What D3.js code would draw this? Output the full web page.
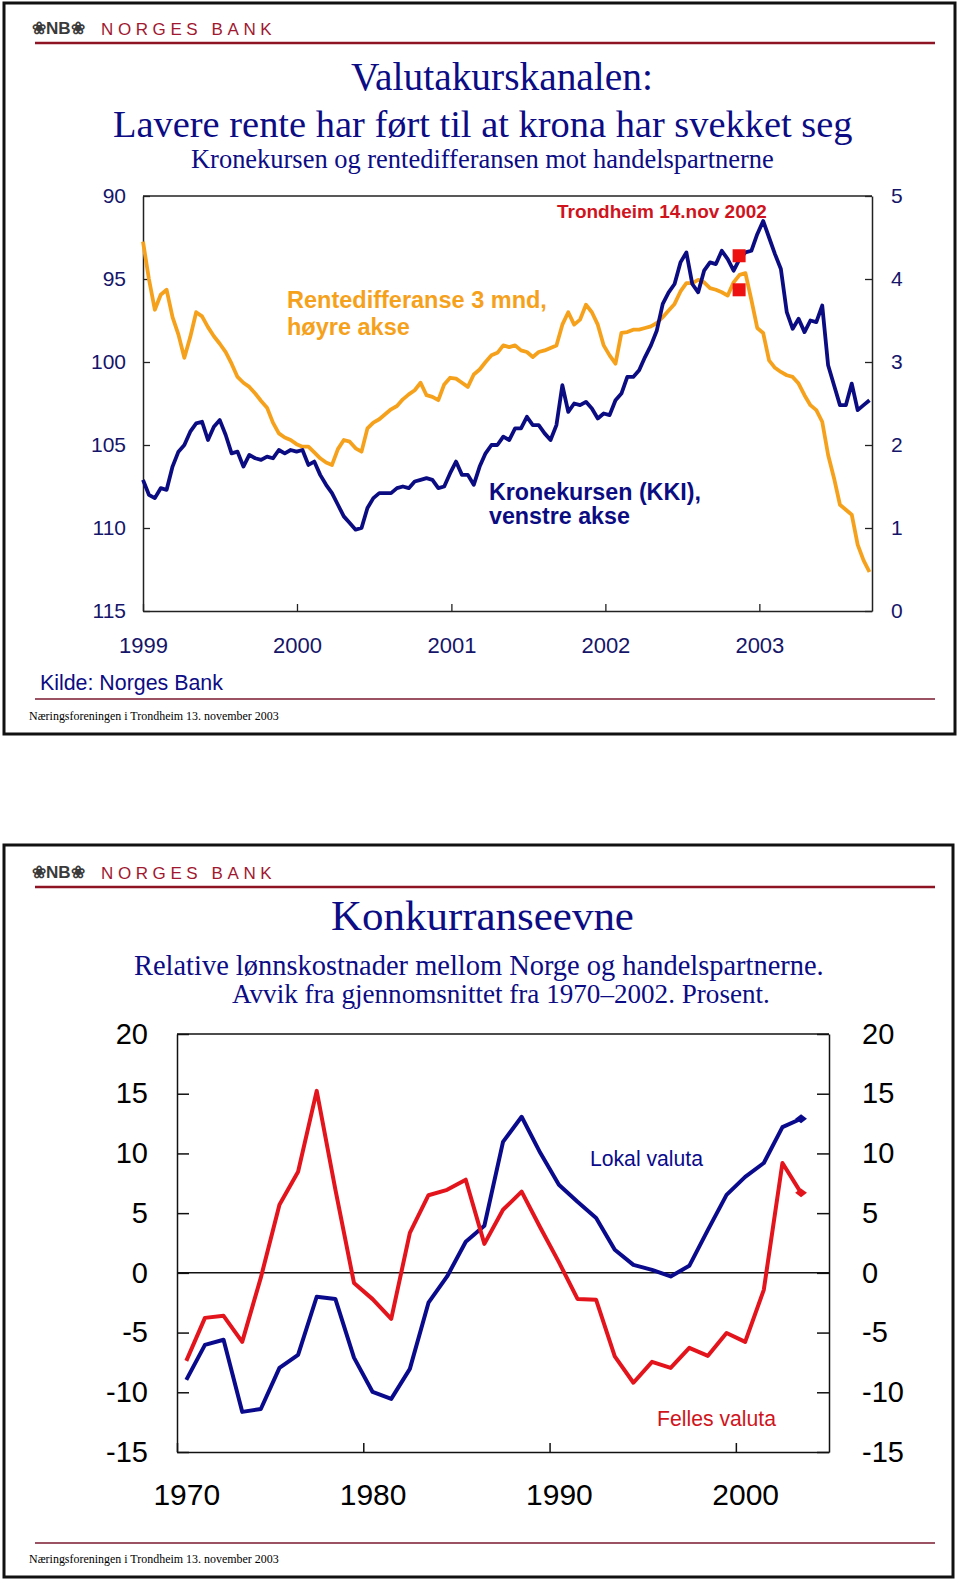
<!DOCTYPE html>
<html><head><meta charset="utf-8">
<script src="https://cdn.jsdelivr.net/npm/d3@7"></script>
<style>body{margin:0;background:#fff} svg{display:block}</style>
</head><body>
<svg id="c" width="960" height="1583"></svg>
<script>
// ---------- Chart 1 data ----------
const kkiStart = "1999-01-01";
const stepDays = 14;
const kkiValues = [107.1,108.0,108.2,107.6,107.7,106.3,105.4,105.0,104.2,103.7,
103.6,104.7,103.9,103.5,104.4,105.5,105.4,106.3,105.6,105.8,
105.9,105.7,105.8,105.3,105.5,105.3,105.4,105.3,106.2,106.0,
106.8,107.4,107.9,108.6,109.3,109.7,110.1,110.0,108.8,108.2,
107.9,107.9,107.9,107.6,107.5,107.6,107.2,107.1,107.0,107.1,
107.6,107.5,106.7,106.0,106.8,106.8,107.4,106.3,105.5,105.0,
105.0,104.5,104.7,104.0,104.0,103.3,103.8,103.8,104.3,104.7,
103.8,101.4,103.0,102.5,102.6,102.4,102.8,103.4,103.1,103.2,
102.3,101.9,100.9,100.9,100.5,99.7,99.0,98.1,96.5,95.8,
95.3,94.0,93.4,95.3,95.8,94.5,94.0,94.1,93.3,93.8,
94.5,93.8,93.4,93.3,92.3,91.5,92.5,93.5,94.4,97.0,
98.0,97.4,98.2,97.5,97.6,96.6,100.2,101.4,102.6,102.6,
101.3,102.9,102.6,102.3];
const diffValues = [4.45,4.0,3.63,3.81,3.87,3.54,3.33,3.05,3.30,3.60,
3.55,3.42,3.31,3.22,3.12,2.98,2.82,2.75,2.70,2.62,
2.53,2.45,2.27,2.14,2.09,2.06,2.01,1.98,1.98,1.91,
1.84,1.79,1.76,1.95,2.06,2.04,1.96,1.92,2.20,2.27,
2.31,2.37,2.43,2.47,2.55,2.61,2.66,2.75,2.60,2.58,
2.54,2.73,2.81,2.80,2.75,2.70,2.85,2.91,3.00,3.08,
3.11,3.20,3.18,3.20,3.14,3.12,3.06,3.12,3.14,3.17,
3.20,3.45,3.60,3.45,3.51,3.69,3.60,3.45,3.20,3.08,
2.98,3.35,3.36,3.39,3.39,3.41,3.43,3.47,3.54,3.62,
3.70,3.85,3.95,3.95,3.99,3.96,3.89,3.87,3.84,3.80,
3.96,4.05,4.07,3.75,3.41,3.35,3.02,2.93,2.88,2.84,
2.82,2.74,2.60,2.48,2.42,2.28,1.88,1.60,1.28,1.22,
1.16,0.80,0.61,0.47];
const markerDate = "2002-11-14";
const markerKKI = 93.6;
const markerDiff = 3.87;
const topXTicks = [1999,2000,2001,2002,2003];
const topLeftTicks = [90,95,100,105,110,115];
const topRightTicks = [0,1,2,3,4,5];

// ---------- Chart 2 data ----------
const years = d3.range(1970, 2004);
const fellesValues = [-7.37,-3.77,-3.6,-5.78,-0.4,5.7,8.46,15.24,7.0,-0.84,
-2.2,-3.85,3.35,6.5,6.95,7.8,2.43,5.28,6.8,3.8,
0.9,-2.18,-2.26,-7.0,-9.2,-7.45,-7.96,-6.28,-6.95,-5.03,
-5.78,-1.42,9.2,6.7];
const lokalValues = [-8.96,-6.03,-5.6,-11.64,-11.4,-7.96,-6.87,-2.0,-2.18,-7.1,
-9.97,-10.55,-8.04,-2.5,-0.3,2.6,3.94,10.97,13.07,10.05,
7.37,5.95,4.6,1.93,0.67,0.25,-0.3,0.59,3.6,6.53,
8.04,9.2,12.2,12.9];
const botXTicks = [1970,1980,1990,2000];
const botYTicks = [-15,-10,-5,0,5,10,15,20];

// ---------- helpers ----------
const svg = d3.select("#c");
const SERIF = "'Liberation Serif','Times New Roman',serif";
const SANS = "'Liberation Sans',Arial,sans-serif";
const NAVY = "#0c0c84";
const plain = d => String(d);
function txt(g, s, x, y, size, opts = {}) {
  const t = g.append("text").attr("x", x).attr("y", y).text(s)
    .attr("font-family", opts.family || SANS).attr("font-size", size)
    .attr("fill", opts.fill || "#000")
    .attr("font-weight", opts.weight || "normal");
  if (opts.spacing) t.attr("letter-spacing", opts.spacing);
  if (opts.width) {
    const w = t.node().getComputedTextLength();
    t.attr("font-size", size * opts.width / w);
  }
  return t;
}
function slide(g, y0, y1, x1, lineY, footY, footLineY) {
  g.append("rect").attr("x", 4).attr("y", y0).attr("width", x1 - 4).attr("height", y1 - y0)
    .attr("fill", "#fff").attr("stroke", "#111").attr("stroke-width", 3);
  txt(g, "❀NB❀", 32, lineY - 9, 14, {fill: "#3a3a3a", weight: "bold", width: 54});
  txt(g, "NORGES BANK", 101, lineY - 8, 17, {fill: "#a01830", spacing: 4.6});
  g.append("line").attr("x1", 35).attr("x2", 935).attr("y1", lineY).attr("y2", lineY)
    .attr("stroke", "#8e1424").attr("stroke-width", 2.5);
  g.append("line").attr("x1", 35).attr("x2", 935).attr("y1", footLineY).attr("y2", footLineY)
    .attr("stroke", "#7a1a30").attr("stroke-width", 1.5);
  txt(g, "Næringsforeningen i Trondheim 13. november 2003", 29, footY, 12, {family: SERIF, width: 250});
}

// ================= Slide 1 =================
const g1 = svg.append("g");
slide(g1, 3, 734, 955, 43, 720, 699);
txt(g1, "Valutakurskanalen:", 351, 90, 30, {family: SERIF, fill: NAVY, width: 302});
txt(g1, "Lavere rente har ført til at krona har svekket seg", 113, 137, 36, {family: SERIF, fill: NAVY, width: 740});
txt(g1, "Kronekursen og rentedifferansen mot handelspartnerne", 191, 168, 22, {family: SERIF, fill: NAVY, width: 583});

const P1 = {l: 143, r: 872, t: 196, b: 611};
const parse = d3.timeParse("%Y-%m-%d");
const t0 = parse(kkiStart);
const x1 = d3.scaleTime().domain([new Date(1999, 0, 1), new Date(2003, 8, 25)]).range([P1.l, P1.r]);
const yL = d3.scaleLinear().domain([90, 115]).range([P1.t, P1.b]);
const yR = d3.scaleLinear().domain([0, 5]).range([P1.b, P1.t]);
const dateAt = i => d3.timeDay.offset(t0, i * stepDays);

g1.append("line").attr("x1", P1.l).attr("x2", P1.r).attr("y1", P1.t).attr("y2", P1.t)
  .attr("stroke", "#222").attr("stroke-width", 1.5);

const axL = g1.append("g").attr("transform", `translate(${P1.l},0)`)
  .call(d3.axisLeft(yL).tickValues(topLeftTicks).tickFormat(plain).tickSize(-7).tickSizeOuter(0).tickPadding(17));
const axR = g1.append("g").attr("transform", `translate(${P1.r},0)`)
  .call(d3.axisRight(yR).tickValues(topRightTicks).tickFormat(plain).tickSize(-7).tickSizeOuter(0).tickPadding(19));
const axB = g1.append("g").attr("transform", `translate(0,${P1.b})`)
  .call(d3.axisBottom(x1).tickValues(topXTicks.map(y => new Date(y, 0, 1)))
    .tickFormat(d3.timeFormat("%Y")).tickSize(-7).tickSizeOuter(0).tickPadding(26));
[axL, axR, axB].forEach(a => {
  a.select(".domain").attr("stroke", "#222").attr("stroke-width", 1.5);
  a.selectAll(".tick line").attr("stroke", "#222").attr("stroke-width", 1.3);
  a.selectAll("text").attr("font-family", SANS).attr("fill", "#15156a");
});
axL.selectAll("text").attr("font-size", 21);
axR.selectAll("text").attr("font-size", 21);
axB.selectAll("text").attr("font-size", 22);

g1.append("clipPath").attr("id", "clip1").append("rect")
  .attr("x", P1.l - 6).attr("y", P1.t).attr("width", P1.r - P1.l + 6).attr("height", P1.b - P1.t);
const lineDiff = d3.line().x((d, i) => x1(dateAt(i))).y(d => yR(d));
const lineKKI = d3.line().x((d, i) => x1(dateAt(i))).y(d => yL(d));
const lines1 = g1.append("g").attr("clip-path", "url(#clip1)");
lines1.append("path").datum(diffValues).attr("d", lineDiff).attr("fill", "none")
  .attr("stroke", "#f6a11c").attr("stroke-width", 3.8).attr("stroke-linejoin", "round");
lines1.append("path").datum(kkiValues).attr("d", lineKKI).attr("fill", "none")
  .attr("stroke", "#0c0c82").attr("stroke-width", 3.8).attr("stroke-linejoin", "round");

const md = parse(markerDate);
[yL(markerKKI), yR(markerDiff)].forEach(yy => {
  g1.append("rect").attr("x", x1(md) - 6.5).attr("y", yy - 6.5).attr("width", 13).attr("height", 13)
    .attr("fill", "#ee1111");
});

txt(g1, "Trondheim 14.nov 2002", 557, 218, 16, {fill: "#d0141e", weight: "bold", width: 210});
const rd = txt(g1, "Rentedifferanse 3 mnd,", 287, 308, 20, {fill: "#f6a11c", weight: "bold", width: 260});
txt(g1, "høyre akse", 287, 335, +rd.attr("font-size"), {fill: "#f6a11c", weight: "bold"});
const kk = txt(g1, "Kronekursen (KKI),", 489, 500, 19, {fill: "#0c0c82", weight: "bold", width: 212});
txt(g1, "venstre akse", 489, 524, +kk.attr("font-size"), {fill: "#0c0c82", weight: "bold"});
txt(g1, "Kilde: Norges Bank", 40, 690, 18, {fill: NAVY, width: 183});

// ================= Slide 2 =================
const g2 = svg.append("g");
slide(g2, 845, 1577, 953, 887, 1563, 1543);
txt(g2, "Konkurranseevne", 331, 930, 40, {family: SERIF, fill: NAVY, width: 303});
txt(g2, "Relative lønnskostnader mellom Norge og handelspartnerne.", 134, 975, 24, {family: SERIF, fill: NAVY, width: 690});
txt(g2, "Avvik fra gjennomsnittet fra 1970–2002. Prosent.", 232, 1003, 24, {family: SERIF, fill: NAVY, width: 538});

const P2 = {l: 177, r: 829, t: 1034, b: 1452};
const x2 = d3.scaleLinear().domain([1970, 2005]).range([P2.l, P2.r]);
const y2 = d3.scaleLinear().domain([-15, 20]).range([P2.b, P2.t]);

g2.append("line").attr("x1", P2.l).attr("x2", P2.r).attr("y1", P2.t).attr("y2", P2.t)
  .attr("stroke", "#111").attr("stroke-width", 1.5);
g2.append("line").attr("x1", P2.l).attr("x2", P2.r).attr("y1", y2(0)).attr("y2", y2(0))
  .attr("stroke", "#111").attr("stroke-width", 1.5);
const bL = g2.append("g").attr("transform", `translate(${P2.l},0)`)
  .call(d3.axisLeft(y2).tickValues(botYTicks).tickFormat(plain).tickSize(-12).tickSizeOuter(0).tickPadding(29));
const bR = g2.append("g").attr("transform", `translate(${P2.r},0)`)
  .call(d3.axisRight(y2).tickValues(botYTicks).tickFormat(plain).tickSize(-12).tickSizeOuter(0).tickPadding(33));
const bB = g2.append("g").attr("transform", `translate(0,${P2.b})`)
  .call(d3.axisBottom(x2).tickValues(botXTicks).tickFormat("").tickSize(-9).tickSizeOuter(0));
const bBL = g2.append("g").attr("transform", `translate(0,${P2.b})`)
  .call(d3.axisBottom(x2).tickValues(botXTicks.map(v => v + 0.5)).tickFormat(d => String(Math.floor(d)))
    .tickSize(0).tickPadding(32));
bBL.select(".domain").remove();
[bL, bR, bB].forEach(a => {
  a.select(".domain").attr("stroke", "#111").attr("stroke-width", 1.5);
  a.selectAll(".tick line").attr("stroke", "#111").attr("stroke-width", 1.5);
});
[bL, bR, bBL].forEach(a => a.selectAll("text").attr("font-family", SANS).attr("fill", "#000"));
bL.selectAll("text").attr("font-size", 29);
bR.selectAll("text").attr("font-size", 29);
bBL.selectAll("text").attr("font-size", 30);

const line2 = d3.line().x((d, i) => x2(years[i] + 0.5)).y(d => y2(d));
g2.append("path").datum(lokalValues).attr("d", line2).attr("fill", "none")
  .attr("stroke", "#0a0a8c").attr("stroke-width", 4).attr("stroke-linejoin", "round");
g2.append("path").datum(fellesValues).attr("d", line2).attr("fill", "none")
  .attr("stroke", "#e3141c").attr("stroke-width", 4).attr("stroke-linejoin", "round");
const lastI = years.length - 1;
[[lokalValues, "#0a0a8c"], [fellesValues, "#e3141c"]].forEach(([vals, col]) => {
  g2.append("path").attr("d", d3.symbol(d3.symbolSquare, 70)())
    .attr("transform", `translate(${x2(years[lastI] + 0.5)},${y2(vals[lastI])}) scale(1,0.75) rotate(45)`)
    .attr("fill", col);
});
txt(g2, "Lokal valuta", 590, 1166, 19, {fill: "#0a0a8c", width: 113});
txt(g2, "Felles valuta", 657, 1426, 19, {fill: "#d0141c", width: 119});
</script>
</body></html>
